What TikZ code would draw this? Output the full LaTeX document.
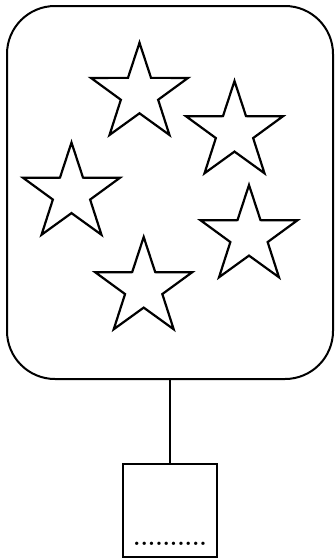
\documentclass[tikz,border=0pt]{standalone}
\usetikzlibrary{positioning}

\tikzset{
  panel/.style={draw, line width=2pt, rounded corners=48pt, inner sep=0pt,
                minimum width=326, minimum height=373},
  slot/.style={draw, line width=2pt, inner sep=0pt, minimum width=94, minimum height=93},
  starpic/.pic={
    \draw[line width=2.2pt, line join=miter] (90:51)
      \foreach \a in {0,72,...,216} {-- (\a+126:19.6) -- (\a+162:51)}
      -- (54:19.6) -- cycle;
  }
}

\begin{document}
\begin{tikzpicture}[x=1pt,y=1pt]
\useasboundingbox (0,0) rectangle (335,-558);

% outer panel
\node[panel] (panel) at (170,-192.5) {};

% stars
\foreach \p in {(139.5,-93.7),(234.5,-132),(71.5,-193.5),(249,-236),(143.7,-288)} {
  \pic at \p {starpic};
}

% box below, hung from the panel
\node[slot] (slot) at (170,-510.5) {};
\draw[line width=1.3pt] (panel) -- (slot);

\node[font=\fontsize{23.5}{23.5}\selectfont\bfseries, anchor=base, inner sep=0pt] (dotrow) at (170,-545) {..........};
\end{tikzpicture}
\end{document}
